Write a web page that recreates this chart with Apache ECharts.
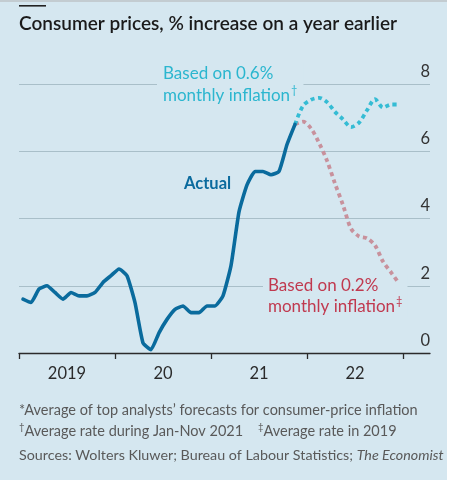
<!DOCTYPE html>
<html>
<head>
<meta charset="utf-8">
<script src="https://cdn.jsdelivr.net/npm/echarts@6/dist/echarts.min.js"></script>
<style>
html,body{margin:0;padding:0;background:#ffffff;}
#chart{width:457px;height:480px;background:linear-gradient(to right,#d5e7f0 447px,#ffffff 447px);}
</style>
</head>
<body>
<div id="chart"></div>
<script>
// Monthly data, Jan 2019 = month index 0
var yearLabels = ['2019', '20', '21', '22'];
var yTicks = [0, 2, 4, 6, 8];
// Actual CPI, Jan 2019 – Nov 2021
var actual = [1.6, 1.5, 1.9, 2.0, 1.8, 1.6, 1.8, 1.7, 1.7, 1.8, 2.1, 2.3,
              2.5, 2.3, 1.5, 0.3, 0.1, 0.6, 1.0, 1.3, 1.4, 1.2, 1.2, 1.4,
              1.4, 1.7, 2.6, 4.2, 5.0, 5.4, 5.4, 5.3, 5.4, 6.2, 6.8];
// Projections, Nov 2021 – Dec 2022
var proj06 = [6.8, 7.35, 7.53, 7.59, 7.46, 7.17, 6.95, 6.72, 6.85, 7.22, 7.55, 7.3, 7.39, 7.39];
var proj02 = [6.8, 6.88, 6.68, 6.25, 5.72, 5.04, 4.4, 3.7, 3.47, 3.41, 3.2, 2.72, 2.4, 2.07];
var projStart = 34; // Nov 2021

var BG = '#d5e7f0';
var FONT = 'Lato';

function toPts(arr, start) {
  return arr.map(function (v, i) { return [start + i + 0.5, v]; });
}

var chart = echarts.init(document.getElementById('chart'), null, {renderer: 'canvas'});
var option = {
  backgroundColor: 'transparent',
  animation: false,
  textStyle: {fontFamily: FONT},
  grid: {left: 19, right: 27, top: 84, bottom: 127},
  xAxis: {
    type: 'value', min: 0, max: 51.375,
    axisLine: {show: true, lineStyle: {color: '#2b2b2b', width: 1.3}},
    axisTick: {show: true, customValues: [0, 12, 24, 36, 48], length: 6, lineStyle: {color: '#2b2b2b', width: 1.3}},
    splitLine: {show: false},
    axisLabel: {
      customValues: [6, 18, 30, 42],
      formatter: function (v) { return yearLabels[Math.round((v - 6) / 12)]; },
      fontFamily: FONT, fontSize: 16.5, color: '#2b2b2b', margin: 12
    }
  },
  yAxis: {
    type: 'value', min: 0, max: 8, interval: 2, position: 'right',
    axisLine: {show: false}, axisTick: {show: false},
    splitLine: {show: true, lineStyle: {color: '#a9bfc9', width: 1.2}},
    axisLabel: {
      inside: true, margin: 0, verticalAlign: 'bottom', padding: [0, 0, 4, 0],
      fontFamily: FONT, fontSize: 16.5, color: '#333333',
      formatter: function (v) { return yTicks.indexOf(v) >= 0 ? String(v) : ''; }
    }
  },
  series: [
    {
      type: 'line', name: 'Based on 0.2%', data: toPts(proj02, projStart), showSymbol: false, z: 3,
      smooth: 0.3,
      lineStyle: {color: '#c8919c', width: 3.8, type: [4, 3.5], cap: 'butt'}
    },
    {
      type: 'line', name: 'Based on 0.6%', data: toPts(proj06, projStart), showSymbol: false, z: 3,
      smooth: 0.3,
      lineStyle: {color: '#35bcd4', width: 3.8, type: [4, 3.5], cap: 'butt'}
    },
    {
      type: 'line', name: 'Actual', data: toPts(actual, 0), showSymbol: false, z: 4,
      smooth: 0.15,
      lineStyle: {color: '#0a6b9d', width: 3.6, join: 'round', cap: 'round'}
    }
  ],
  graphic: [
    {type: 'rect', z: 1, shape: {x: 0, y: 0, width: 447, height: 2}, style: {fill: '#c3ccd1'}},
    {type: 'rect', z: 1, shape: {x: 19, y: 5, width: 27, height: 1.6}, style: {fill: '#222222'}},
    {type: 'text', z: 1, x: 19, y: 14, style: {
      text: 'Consumer prices, % increase on a year earlier',
      font: '600 19px ' + FONT, fill: '#1a1a1a'}},
    {type: 'text', z: 1, x: 157, y: 63, style: {
      text: '{a|Based on 0.6%}\n{a|monthly inflation}{s|†}',
      backgroundColor: BG, padding: [0, 6, 0, 6],
      rich: {
        a: {fontFamily: FONT, fontSize: 17, lineHeight: 22, fill: '#2bb6cf'},
        s: {fontFamily: FONT, fontSize: 11, lineHeight: 22, verticalAlign: 'top', fill: '#2bb6cf', padding: [0, 0, 10, 1]}
      }}},
    {type: 'text', z: 1, x: 184, y: 175, style: {
      text: 'Actual', font: 'bold 16.5px ' + FONT, fill: '#0b6b9e'}},
    {type: 'text', z: 1, x: 263, y: 275, style: {
      text: '{a|Based on 0.2%}\n{a|monthly inflation}{s|‡}',
      backgroundColor: BG, padding: [0, 5, 0, 5],
      rich: {
        a: {fontFamily: FONT, fontSize: 17, lineHeight: 21, fill: '#c0394f'},
        s: {fontFamily: FONT, fontSize: 11, lineHeight: 21, verticalAlign: 'top', fill: '#c0394f', padding: [0, 0, 10, 1]}
      }}},
    {type: 'text', z: 1, x: 19, y: 403, style: {
      text: '*Average of top analysts\u2019 forecasts for consumer-price inflation',
      font: '14.5px ' + FONT, fill: '#595959'}},
    {type: 'text', z: 1, x: 19, y: 422, style: {
      text: '{s|†}{a|Average rate during Jan-Nov 2021    }{s|‡}{a|Average rate in 2019}',
      rich: {
        a: {fontFamily: FONT, fontSize: 14.5, fill: '#595959', lineHeight: 18},
        s: {fontFamily: FONT, fontSize: 9.5, fill: '#595959', lineHeight: 18, verticalAlign: 'top', padding: [0, 0, 7, 0]}
      }}},
    {type: 'text', z: 1, x: 19, y: 448, style: {
      text: '{a|Sources: Wolters Kluwer; Bureau of Labour Statistics; }{i|The Economist}',
      rich: {
        a: {fontFamily: FONT, fontSize: 14.3, fill: '#595959'},
        i: {fontFamily: FONT, fontSize: 14.3, fontStyle: 'italic', fill: '#595959'}
      }}}
  ]
};
chart.setOption(option);
</script>
</body>
</html>
